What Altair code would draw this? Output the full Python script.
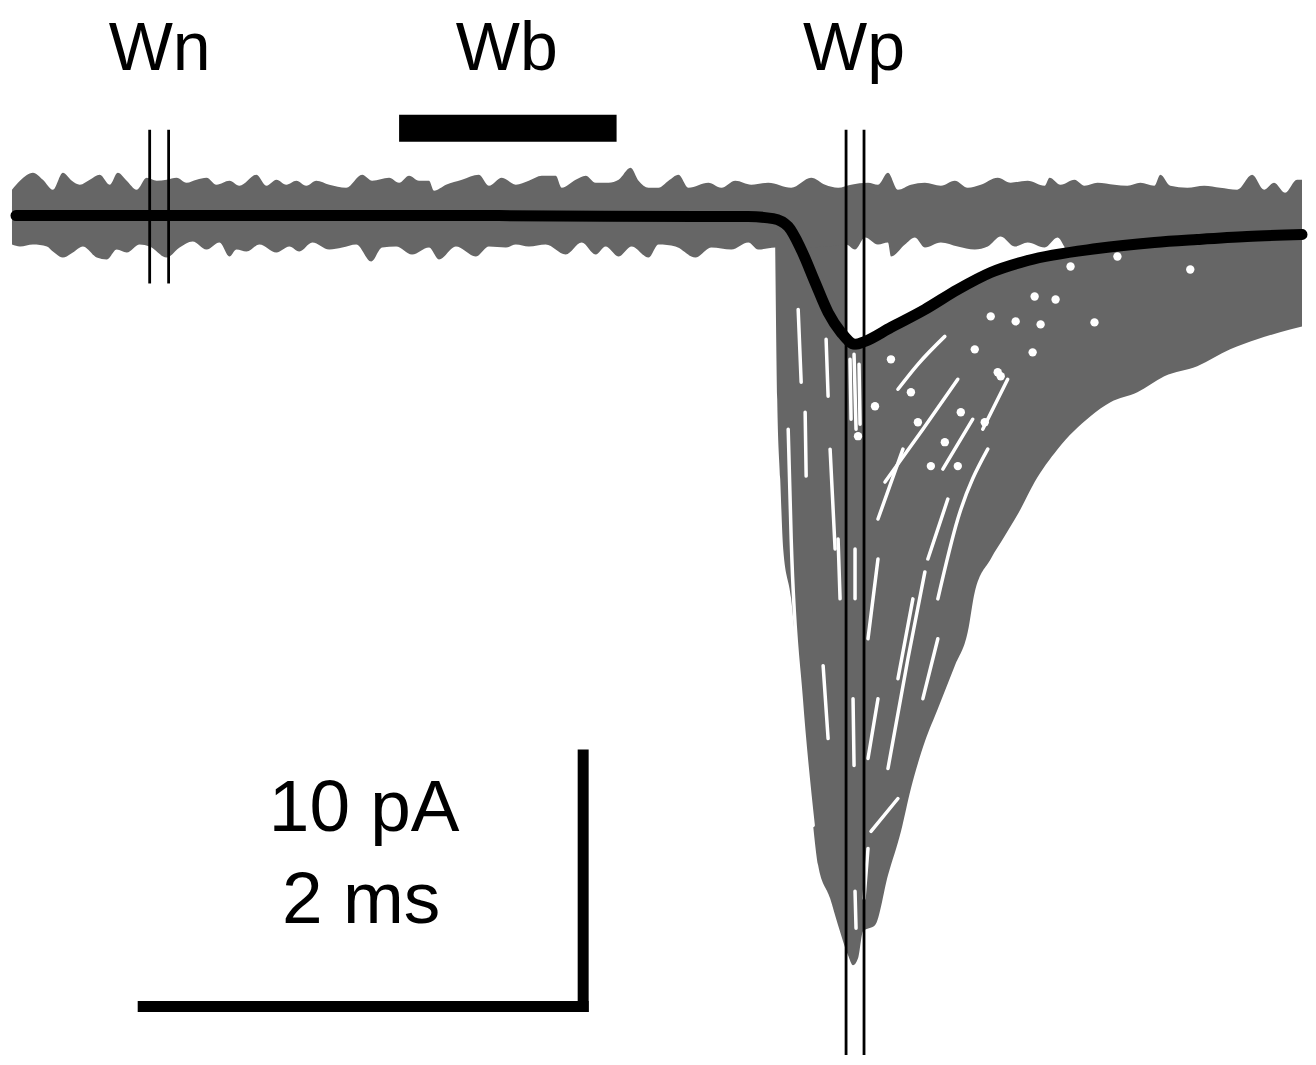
import altair as alt
import pandas as pd

GRAY = "#666666"

# ---- data (time in samples, current in display units; y grows downward) ----
BAND_TOP_X = [12, 20, 33, 43, 53, 63, 72, 80, 90, 100,
              110, 118, 127, 137, 147, 157, 167, 177, 187, 197,
              207, 217, 230, 240, 257, 267, 277, 287, 297, 307,
              317, 330, 347, 363, 373, 390, 400, 410, 420, 430,
              435, 447, 463, 480, 490, 503, 517, 530, 543, 557,
              563, 577, 587, 597, 610, 620, 632, 640, 650, 660,
              670, 680, 690, 710, 723, 737, 753, 770, 793, 813,
              827, 840, 853, 870, 880, 890, 900, 913, 927, 943,
              957, 970, 983, 1000, 1013, 1030, 1047, 1052, 1063, 1077,
              1087, 1100, 1117, 1130, 1143, 1157, 1163, 1173, 1190, 1207,
              1223, 1240, 1255, 1267, 1277, 1288, 1300, 1305]
BAND_TOP_Y = [190, 181, 173, 180, 190, 173, 181, 185, 180, 175,
              185, 173, 181, 190, 178, 181, 180, 178, 183, 180,
              178, 185, 181, 186, 175, 186, 180, 185, 181, 186,
              181, 185, 188, 175, 181, 178, 183, 176, 181, 181,
              191, 185, 180, 175, 186, 178, 185, 181, 176, 176,
              188, 180, 176, 183, 183, 180, 168, 181, 188, 188,
              181, 175, 188, 183, 188, 181, 185, 183, 188, 178,
              185, 188, 185, 183, 185, 173, 190, 185, 183, 186,
              181, 188, 185, 178, 183, 181, 186, 178, 185, 180,
              186, 183, 185, 186, 183, 186, 175, 186, 188, 186,
              188, 190, 175, 190, 183, 193, 180, 180]

BAND_BOT_X = [12, 20, 33, 47, 53, 63, 73, 83, 97, 107,
              117, 127, 140, 150, 167, 180, 193, 207, 220, 230,
              237, 247, 260, 277, 290, 300, 313, 330, 343, 357,
              372, 383, 397, 413, 430, 440, 457, 477, 490, 507,
              517, 530, 547, 567, 583, 597, 607, 620, 633, 650,
              660, 677, 697, 713, 733, 750, 760, 777, 800, 830,
              848, 857, 867, 880, 890, 893, 907, 917, 927, 943,
              960, 977, 990, 1003, 1017, 1030, 1047, 1060, 1070, 1090,
              1150, 1200, 1250, 1305]
BAND_BOT_Y = [245, 247, 245, 247, 252, 258, 253, 247, 258, 260,
              250, 253, 245, 247, 258, 248, 242, 250, 243, 257,
              250, 252, 245, 253, 247, 252, 243, 250, 248, 245,
              262, 248, 247, 255, 248, 260, 247, 257, 247, 248,
              245, 247, 245, 255, 243, 255, 247, 257, 247, 258,
              245, 247, 258, 248, 250, 243, 250, 248, 248, 247,
              245, 250, 238, 245, 243, 257, 245, 238, 248, 243,
              247, 250, 247, 237, 247, 243, 248, 238, 250, 245,
              245, 245, 245, 245]
BASELINE = 216

EVENT_X = [777, 779, 782, 785, 793, 797, 803, 808, 812, 820,
           832, 840, 850, 855, 860, 865, 877, 890, 903, 913,
           927, 940, 957, 970, 977, 993, 1007, 1023, 1037, 1060,
           1093, 1113, 1140, 1167, 1200, 1233, 1260, 1293, 1305]
EVENT_BOTTOM = [250, 400, 480, 550, 600, 640, 700, 770, 800, 867,
                900, 927, 957, 967, 960, 933, 927, 877, 833, 790,
                743, 710, 667, 633, 593, 560, 537, 510, 483, 450,
                417, 403, 393, 377, 367, 350, 340, 330, 327]
EVENT_TOP = 235

POCKET_X = [847, 857, 867, 880, 893, 910, 927, 943, 960, 977, 993, 1010, 1030, 1050, 1065, 1075]
POCKET_BOTTOM = [338, 350, 346, 338, 330, 321, 312, 302, 292, 283, 275, 269, 262, 257, 250, 238]
POCKET_TOP = 230

MEAN_X = [16, 100, 300, 500, 700, 750, 775, 790, 803, 817, 830, 843, 857, 867,
          893, 927, 960, 993, 1030, 1100, 1157, 1200, 1250, 1305]
MEAN_Y = [216, 216, 216, 216, 217, 217, 219, 227, 250, 283, 313, 333, 345, 342,
          328, 310, 290, 273, 261, 249, 243, 240, 237, 235]

# white gaps between individual traces
GAPS = {
    "g1": ([800, 803], [310, 383]),
    "g2": ([828, 830], [340, 397]),
    "g3": ([790, 793, 803, 815], [430, 540, 700, 827]),
    "g4": ([807, 808], [413, 477]),
    "g5": ([832, 837], [450, 550]),
    "g6": ([825, 830], [667, 740]),
    "g7": ([840, 842], [540, 600]),
    "g8": ([856, 858], [355, 430]),
    "g9": ([857, 857], [550, 600]),
    "g10": ([855, 856], [700, 767]),
    "g11": ([857, 858], [893, 930]),
    "g12": ([960, 925, 887], [380, 430, 483]),
    "g13": ([947, 920, 900], [337, 365, 390]),
    "g14": ([927, 910, 890], [573, 660, 770]),
    "g15": ([900, 873], [800, 833]),
    "g16": ([950, 930], [500, 560]),
    "g17": ([880, 870], [560, 640]),
    "g18": ([990, 960, 940], [450, 520, 600]),
    "g19": ([975, 945], [420, 470]),
    "g20": ([905, 880], [450, 520]),
    "g21": ([915, 900], [600, 680]),
    "g22": ([940, 925], [640, 700]),
    "g23": ([880, 870], [700, 760]),
    "g24": ([1010, 985], [380, 430]),
    "g25": ([870, 866], [850, 900]),
    "g26": ([852, 853], [360, 420]),
    "g27": ([861, 862], [365, 425]),
}
DOT_X = [1037, 1058, 1018, 1043, 1097, 1193, 1120, 1073, 1035, 1003, 977, 993,
         1000, 987, 963, 947, 960, 933, 920, 893, 913, 877, 860]
DOT_Y = [297, 300, 322, 325, 323, 270, 257, 267, 353, 377, 350, 317,
         373, 423, 413, 443, 467, 467, 423, 360, 393, 407, 437]

WINDOW_LINES_X = [150, 169, 848, 866]
WINDOW_LINES_TOP = [130, 130, 130, 130]
WINDOW_LINES_BOTTOM = [284, 284, 1057, 1057]

WB_BAR = {"x": [400], "x2": [618], "y": [115], "y2": [142]}

LABELS = ["Wn", "Wb", "Wp"]
LABEL_X = [160, 508, 856]
LABEL_Y = [70, 70, 70]

SCALE_TEXT = ["10 pA", "2 ms"]
SCALE_TEXT_X = [365, 362]
SCALE_TEXT_Y = [833, 925]
SCALE_BARS = {"x": [138, 579], "x2": [590, 590], "y": [1003, 751], "y2": [1014, 1014]}

# ---- scales ----
xs = alt.Scale(domain=[8, 1308], nice=False, zero=False)
ys = alt.Scale(domain=[8, 1057], reverse=True, nice=False, zero=False)


def X(f):
    return alt.X(f"{f}:Q", scale=xs, axis=None)


def Y(f):
    return alt.Y(f"{f}:Q", scale=ys, axis=None)


band_top = pd.DataFrame({"t": BAND_TOP_X, "v": BAND_TOP_Y, "b": BASELINE + 10})
band_bot = pd.DataFrame({"t": BAND_BOT_X, "v": BAND_BOT_Y, "b": BASELINE - 10})
event = pd.DataFrame({"t": EVENT_X, "v": EVENT_BOTTOM, "b": EVENT_TOP})
pocket = pd.DataFrame({"t": POCKET_X, "v": POCKET_BOTTOM, "b": POCKET_TOP})
mean = pd.DataFrame({"t": MEAN_X, "v": MEAN_Y})

gap_rows = []
for gid, (gx, gy) in GAPS.items():
    for i, (a, b) in enumerate(zip(gx, gy)):
        gap_rows.append({"g": gid, "i": i, "t": a, "v": b})
gaps = pd.DataFrame(gap_rows)
dots = pd.DataFrame({"t": DOT_X, "v": DOT_Y})
wlines = pd.DataFrame({"t": WINDOW_LINES_X, "v": WINDOW_LINES_TOP, "v2": WINDOW_LINES_BOTTOM})
wb = pd.DataFrame(WB_BAR)
labels = pd.DataFrame({"t": LABEL_X, "v": LABEL_Y, "s": LABELS})
stext = pd.DataFrame({"t": SCALE_TEXT_X, "v": SCALE_TEXT_Y, "s": SCALE_TEXT})
sbars = pd.DataFrame(SCALE_BARS)

event_layer = alt.Chart(event).mark_area(color=GRAY, interpolate="monotone").encode(
    x=X("t"), y=Y("v"), y2=alt.Y2("b:Q"))
pocket_layer = alt.Chart(pocket).mark_area(color="white", interpolate="monotone").encode(
    x=X("t"), y=Y("v"), y2=alt.Y2("b:Q"))
band_top_layer = alt.Chart(band_top).mark_area(color=GRAY, interpolate="monotone").encode(
    x=X("t"), y=Y("v"), y2=alt.Y2("b:Q"))
band_bot_layer = alt.Chart(band_bot).mark_area(color=GRAY, interpolate="monotone").encode(
    x=X("t"), y=Y("v"), y2=alt.Y2("b:Q"))
gap_layer = alt.Chart(gaps).mark_line(color="white", strokeWidth=3.5, strokeCap="round",
                                      interpolate="monotone").encode(
    x=X("t"), y=Y("v"), detail="g:N", order="i:Q")
dot_layer = alt.Chart(dots).mark_point(filled=True, color="white", opacity=1, size=70,
                                       shape="circle").encode(x=X("t"), y=Y("v"))
mean_layer = alt.Chart(mean).mark_line(color="black", strokeWidth=11, strokeCap="round",
                                       strokeJoin="round", interpolate="monotone").encode(
    x=X("t"), y=Y("v"))
wline_layer = alt.Chart(wlines).mark_rule(color="black", strokeWidth=2.8).encode(
    x=X("t"), y=Y("v"), y2=alt.Y2("v2:Q"))
wb_layer = alt.Chart(wb).mark_rect(color="black").encode(
    x=X("x"), x2=alt.X2("x2:Q"), y=Y("y"), y2=alt.Y2("y2:Q"))
label_layer = alt.Chart(labels).mark_text(font="Liberation Sans", fontSize=68, color="black",
                                          align="center", baseline="alphabetic").encode(
    x=X("t"), y=Y("v"), text="s:N")
stext_layer = alt.Chart(stext).mark_text(font="Liberation Sans", fontSize=73, color="black",
                                         align="center", baseline="alphabetic").encode(
    x=X("t"), y=Y("v"), text="s:N")
sbar_layer = alt.Chart(sbars).mark_rect(color="black").encode(
    x=X("x"), x2=alt.X2("x2:Q"), y=Y("y"), y2=alt.Y2("y2:Q"))

chart = alt.layer(
    event_layer, pocket_layer, band_top_layer, band_bot_layer, gap_layer, dot_layer,
    mean_layer, wline_layer, wb_layer, label_layer, stext_layer, sbar_layer
).properties(
    width=1300, height=1049, padding=0,
    autosize=alt.AutoSizeParams(type="fit", contains="padding"),
    background="white",
).configure_view(stroke=None)

chart.save("out.html", embed_options={"renderer": "svg", "actions": False})
